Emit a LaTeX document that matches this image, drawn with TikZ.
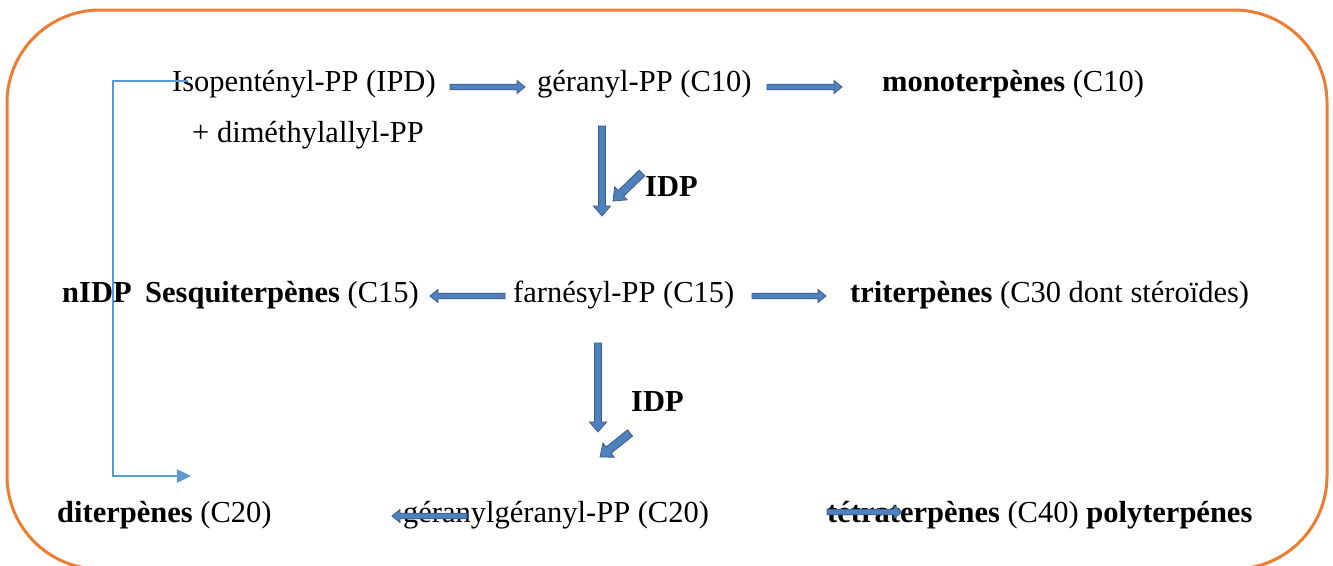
\documentclass[tikz,border=0pt]{standalone}
\usepackage{fontspec}
\setmainfont{Liberation Serif}
\usetikzlibrary{calc,arrows.meta}
\definecolor{bafill}{HTML}{4F81BD}
\definecolor{badraw}{HTML}{385D8A}
\definecolor{lineblue}{HTML}{5B9BD5}
\definecolor{frameorange}{HTML}{ED7D31}
\tikzset{
  txt/.style={anchor=base west, inner sep=0pt, font=\fontsize{30.5}{36}\selectfont},
  blockarrow/.style={fill=bafill, draw=badraw, line width=0.8pt, line join=miter},
  feedback/.style={draw=lineblue, line width=2.5pt, -{Triangle[length=14pt,width=13pt]}},
  frame/.style={draw=frameorange, line width=3pt, rounded corners=93pt}
}
% #1 start, #2 end, #3 half shaft, #4 half head, #5 head length
\newcommand{\barrow}[5]{%
  \coordinate (bn) at ($(#2)!#5!(#1)$);
  \filldraw[blockarrow] ($(#1)!#3!90:(#2)$) -- ($(bn)!#3!90:(#2)$) --
    ($(bn)!#4!90:(#2)$) -- (#2) -- ($(bn)!#4!-90:(#2)$) --
    ($(bn)!#3!-90:(#2)$) -- ($(#1)!#3!-90:(#2)$) -- cycle;
}
\begin{document}
\begin{tikzpicture}[x=1pt,y=-1pt]
\useasboundingbox (0,0) rectangle (1333,565);
\fill[white] (0,0) rectangle (1333,565);
\draw[frame] (7,10) rectangle (1327,569);

% texts
\node[txt] (ipp) at (172,91) {Isopentényl-PP (IPD)};
\node[txt] (dma) at (192,142) {+ diméthylallyl-PP};
\node[txt] (ger) at (537,91) {géranyl-PP (C10)};
\node[txt] (mono) at (882,91) {\textbf{monoterpènes} (C10)};
\node[txt] (idpa) at (645,196) {\textbf{IDP}};
\node[txt] (nidp) at (62,302) {\textbf{nIDP}};
\node[txt] (sesq) at (145,302) {\textbf{Sesquiterpènes} (C15)};
\node[txt] (farn) at (513,302) {farnésyl-PP (C15)};
\node[txt] (tri) at (850,302) {\textbf{triterpènes} (C30 dont stéroïdes)};
\node[txt] (idpb) at (631,411) {\textbf{IDP}};
\node[txt] (dit) at (57,522) {\textbf{diterpènes} (C20)};
\node[txt] (gg) at (403,522) {géranylgéranyl-PP (C20)};
\node[txt] (tetra) at (827,522) {\textbf{tétraterpènes} (C40) \textbf{polyterpénes}};

% arrow end points
\coordinate (a1s) at (450,87);  \coordinate (a1e) at (525,87);
\coordinate (a2s) at (767,87);  \coordinate (a2e) at (842,87);
\coordinate (v1s) at (602,126); \coordinate (v1e) at (602,216);
\coordinate (d1s) at (642,173); \coordinate (d1e) at (613,201);
\coordinate (l2s) at (505,296); \coordinate (l2e) at (430,296);
\coordinate (r2s) at (752,296); \coordinate (r2e) at (826,296);
\coordinate (v2s) at (598,343); \coordinate (v2e) at (598,432);
\coordinate (d2s) at (630,433); \coordinate (d2e) at (600,457);
\coordinate (l3s) at (467,516); \coordinate (l3e) at (392,516);
\coordinate (r3s) at (827,512); \coordinate (r3e) at (902,512);

\barrow{a1s}{a1e}{2.8pt}{6.5pt}{8pt}
\barrow{a2s}{a2e}{2.8pt}{6.5pt}{8pt}
\barrow{v1s}{v1e}{3.5pt}{8.5pt}{10pt}
\barrow{d1s}{d1e}{4pt}{9pt}{11pt}
\barrow{l2s}{l2e}{2.8pt}{6.5pt}{8pt}
\barrow{r2s}{r2e}{2.8pt}{6.5pt}{8pt}
\barrow{v2s}{v2e}{3.5pt}{8.5pt}{10pt}
\barrow{d2s}{d2e}{4pt}{9pt}{11pt}
\barrow{l3s}{l3e}{2.8pt}{6.5pt}{8pt}
\barrow{r3s}{r3e}{2.8pt}{6.5pt}{8pt}

% feedback connector
\coordinate (fbs) at (188,81);
\coordinate (fbe) at (191,476);
\draw[feedback] (fbs) -- (113,81) -- (113,476) -- (fbe);
\end{tikzpicture}
\end{document}
